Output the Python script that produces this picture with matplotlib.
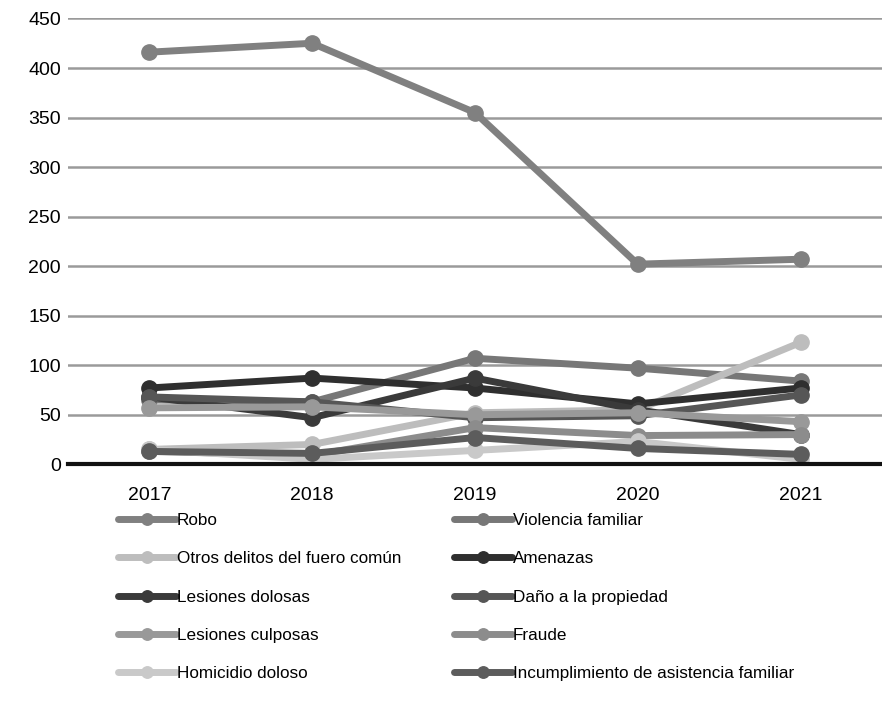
import matplotlib
matplotlib.use('Agg')
import matplotlib.pyplot as plt
import numpy as np

plt.rcParams['font.family'] = ['Liberation Sans', 'DejaVu Sans']

years = ['2017', '2018', '2019', '2020', '2021']

robo = [416, 425, 355, 202, 207]
violencia_familiar = [65, 63, 107, 97, 84]
otros_delitos = [15, 20, 52, 55, 123]
amenazas = [77, 87, 77, 61, 77]
lesiones_dolosas = [68, 47, 87, 55, 30]
dano_propiedad = [68, 63, 47, 49, 70]
lesiones_culposas = [57, 58, 50, 52, 43]
fraude = [13, 9, 37, 29, 30]
homicidio_doloso = [15, 5, 14, 23, 5]
incumplimiento = [13, 11, 27, 16, 10]

series = [
    ("Robo", robo, "#808080"),
    ("Violencia familiar", violencia_familiar, "#777777"),
    ("Otros delitos del fuero común", otros_delitos, "#bdbdbd"),
    ("Amenazas", amenazas, "#2f2f2f"),
    ("Lesiones dolosas", lesiones_dolosas, "#3a3a3a"),
    ("Daño a la propiedad", dano_propiedad, "#565656"),
    ("Lesiones culposas", lesiones_culposas, "#999999"),
    ("Fraude", fraude, "#8c8c8c"),
    ("Homicidio doloso", homicidio_doloso, "#c9c9c9"),
    ("Incumplimiento de asistencia familiar", incumplimiento, "#5c5c5c"),
]

fig = plt.figure(figsize=(8.82, 7.11), dpi=100)
ax = fig.add_axes([0.077, 0.347, 0.923, 0.627])

x = np.arange(len(years))
handles = {}
for name, vals, color in series:
    h, = ax.plot(x, vals, color=color, linewidth=5, marker='o', markersize=11,
                 solid_capstyle='round', label=name)
    handles[name] = h

ax.set_xlim(-0.5, 4.5)
ax.set_ylim(0, 450)
ax.set_yticks(np.arange(0, 451, 50))
ax.set_xticks(x)
ax.set_xticklabels(years)
ax.tick_params(axis='both', length=0, labelsize=14)
ax.tick_params(axis='x', pad=16)
ax.tick_params(axis='y', pad=5)
ax.grid(axis='y', color='#9a9a9a', linewidth=1.8)
ax.set_axisbelow(True)
for side in ['top', 'right', 'left']:
    ax.spines[side].set_visible(False)
ax.spines['bottom'].set_color('#111111')
ax.spines['bottom'].set_linewidth(3)

# legend: column-major order to read row-wise like the reference
order = [s[0] for s in series]
col1 = order[0::2]
col2 = order[1::2]
leg_names = col1 + col2
fig.legend([handles[n] for n in leg_names], leg_names, loc='upper left',
           bbox_to_anchor=(0.116, 0.3), ncol=2, frameon=False,
           fontsize=12.3, handlelength=3.4, handletextpad=0.05,
           columnspacing=3.1, labelspacing=1.36, markerscale=0.75)

plt.savefig('out.png', dpi=100)
